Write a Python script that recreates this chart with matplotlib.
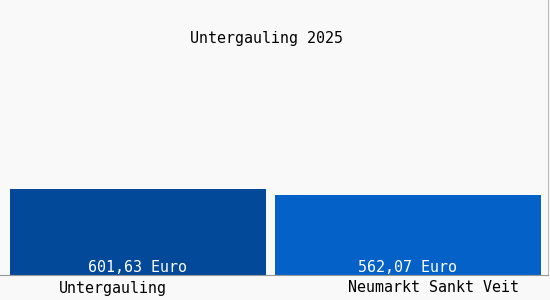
import matplotlib.pyplot as plt

categories = ["Untergauling", "Neumarkt Sankt Veit"]
values = [601.63, 562.07]
value_labels = ["601,63 Euro", "562,07 Euro"]
title = "Untergauling 2025"

colors = ["#03499a", "#0461c8"]
bar_left = [10, 275]
bar_width = [256, 266]
label_x = [113, 434]

W, H = 550, 300
fig = plt.figure(figsize=(W / 100, H / 100), dpi=100)
fig.patch.set_facecolor("#f9f9f9")

# plot area: from the top of the figure down to the baseline at y=275px
ax = fig.add_axes([0, (H - 275) / H, 548 / W, 275 / H])
ax.set_facecolor("#f9f9f9")
ax.bar(bar_left, values, width=bar_width, align="edge", color=colors, zorder=2)
ax.set_xlim(0, 548)
ax.set_ylim(0, values[0] * 275 / 86)
ax.set_xticks([])
ax.set_yticks([])
for s in ["top", "left"]:
    ax.spines[s].set_visible(False)
ax.spines["bottom"].set_color("#999999")
ax.spines["right"].set_color("#bbbbbb")

font = dict(family="DejaVu Sans Mono", fontsize=10.8)

# value labels inside the bars, near the bottom
for x0, w, lab in zip(bar_left, bar_width, value_labels):
    fig.text((x0 + w / 2) / W, 1 - 268 / H, lab, ha="center", va="center",
             color="white", **font)

# category names under the baseline
for x, cat in zip(label_x, categories):
    fig.text(x / W, 1 - 288 / H, cat, ha="center", va="center", color="black", **font)

fig.text(266 / W, 1 - 39 / H, title, ha="center", va="center", color="black", **font)

fig.savefig("out.png", dpi=100, facecolor=fig.get_facecolor())
